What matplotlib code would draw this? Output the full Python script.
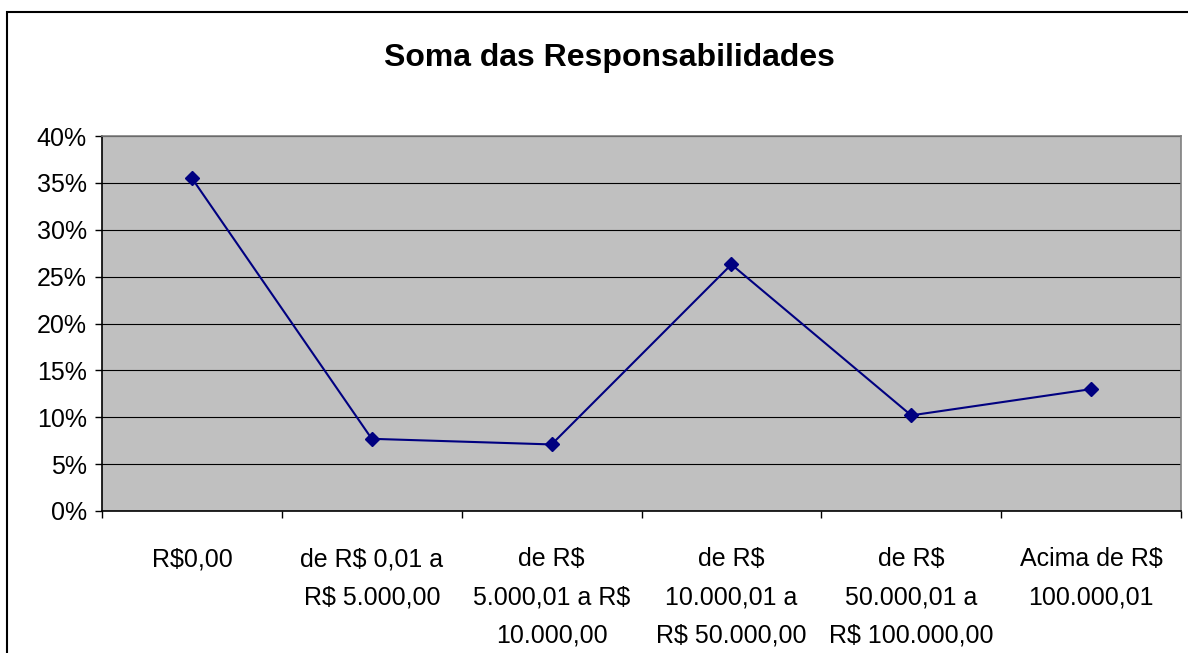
import matplotlib
matplotlib.use("Agg")
import matplotlib.pyplot as plt
from matplotlib.patches import Rectangle
from matplotlib.ticker import FixedLocator, FuncFormatter

categories = [
    "R$0,00",
    "de R$ 0,01 a\nR$ 5.000,00",
    "de R$\n5.000,01 a R$\n10.000,00",
    "de R$\n10.000,01 a\nR$ 50.000,00",
    "de R$\n50.000,01 a\nR$ 100.000,00",
    "Acima de R$\n100.000,01",
]
values = [35.5, 7.7, 7.1, 26.3, 10.2, 13.0]
yticks = [0, 5, 10, 15, 20, 25, 30, 35, 40]
title = "Soma das Responsabilidades"

plt.rcParams['font.family'] = ['Liberation Sans', 'DejaVu Sans']

W, H = 1188, 653
fig = plt.figure(figsize=(W / 100, H / 100), dpi=100)
ax = fig.add_axes([102 / W, 1 - 511 / H, (1181 - 102) / W, (511 - 136) / H])
ax.set_facecolor('#C0C0C0')

xs = [i + 0.5 for i in range(len(values))]
ax.plot(xs, values, color='#000080', lw=1.5, marker='D', ms=7,
        markerfacecolor='#000080', markeredgecolor='#000080', zorder=3)

ax.set_xlim(0, len(categories))
ax.set_ylim(0, 40)
ax.yaxis.set_major_locator(FixedLocator(yticks))
ax.yaxis.set_major_formatter(FuncFormatter(lambda v, p: f"{v:.0f}%"))
ax.grid(axis='y', color='black', lw=0.8)
ax.set_axisbelow(True)

ax.xaxis.set_major_locator(FixedLocator(range(len(categories) + 1)))
ax.xaxis.set_major_formatter(FuncFormatter(lambda v, p: ""))
ax.xaxis.set_minor_locator(FixedLocator(xs))
ax.set_xticklabels(categories, minor=True)
ax.tick_params(axis='x', which='major', direction='out', length=5, width=1, color='black')
ax.tick_params(axis='x', which='minor', length=0, pad=26, labelsize=18)
for lab in ax.get_xticklabels(minor=True):
    lab.set_linespacing(1.75)
    lab.set_verticalalignment('top')
ax.tick_params(axis='y', direction='out', length=5, width=1, pad=6, labelsize=18)

for s in ['left', 'bottom']:
    ax.spines[s].set_color('black')
    ax.spines[s].set_linewidth(1.2)
for s in ['top', 'right']:
    ax.spines[s].set_color('#808080')
    ax.spines[s].set_linewidth(1.2)

fig.text(609 / W, 1 - 58 / H, title, ha='center', va='center',
         fontsize=23, fontweight='bold')

fig.patches.append(Rectangle((7 / W, -0.1), 1.2, 1.1 - 12 / H,
                             transform=fig.transFigure, fill=False,
                             edgecolor='black', lw=1.5, clip_on=False))

fig.savefig("out.png", dpi=100)
